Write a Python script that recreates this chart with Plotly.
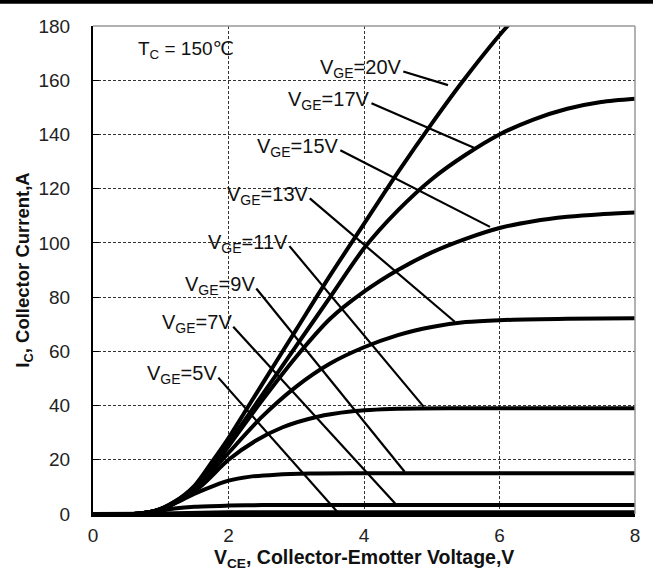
import plotly.graph_objects as go

# ---------------- data ----------------
v20_x = [0, 0.6, 0.9, 1.2, 1.5, 1.75, 2.0, 2.25, 2.5, 3.0, 3.5, 4.0, 4.5, 5.0, 5.5, 6.12, 6.5]
v20_y = [0, 0, 1, 4.5, 10.5, 19, 28, 38, 48, 68, 88, 107, 126, 144, 161, 180, 189]

v17_x = [0, 0.6, 0.9, 1.2, 1.5, 1.8, 2.0, 2.5, 3.0, 3.5, 4.0, 4.5, 5.0, 5.5, 6.0, 6.5, 7.0, 7.5, 8.0]
v17_y = [0, 0, 1, 4.3, 10, 19, 26, 44, 62, 80, 98, 112, 123.5, 132.5, 140, 145.5, 149.5, 152, 153.2]

v15_x = [0, 0.6, 0.9, 1.2, 1.5, 1.8, 2.0, 2.5, 3.0, 3.5, 4.0, 4.5, 5.0, 5.5, 6.0, 6.5, 7.0, 7.5, 8.0]
v15_y = [0, 0, 1, 4, 9.8, 18, 25, 42, 58, 72, 82, 90, 96.5, 101.5, 105.5, 108, 109.6, 110.6, 111.2]

v13_x = [0, 0.6, 0.9, 1.2, 1.5, 1.8, 2.0, 2.5, 3.0, 3.5, 4.0, 4.5, 5.0, 5.5, 6.0, 7.0, 8.0]
v13_y = [0, 0, 1, 4, 9.5, 17, 22.5, 36, 47, 55.5, 61.5, 66, 69, 70.8, 71.5, 72, 72.2]

v11_x = [0, 0.6, 0.9, 1.2, 1.58, 2.0, 2.4, 2.8, 3.3, 3.8, 4.5, 5.5, 8.0]
v11_y = [0, 0, 1, 4, 10, 20, 27, 32, 35.8, 37.8, 38.8, 39, 39]

v9_x = [0, 0.6, 0.9, 1.2, 1.5, 1.8, 2.0, 2.3, 2.7, 3.2, 4.0, 8.0]
v9_y = [0, 0, 1, 3.8, 7.5, 10.6, 12.3, 13.7, 14.5, 14.9, 15, 15]

v7_x = [0, 0.6, 0.9, 1.2, 1.5, 2.0, 2.5, 3.0, 8.0]
v7_y = [0, 0, 0.8, 2.0, 2.7, 3.1, 3.3, 3.3, 3.3]

v5_x = [0, 0.8, 1.2, 1.6, 2.0, 8.0]
v5_y = [0, 0.1, 0.3, 0.5, 0.6, 0.6]

x_ticks = [0, 2, 4, 6, 8]
y_ticks = [0, 20, 40, 60, 80, 100, 120, 140, 160, 180]

curves = [
    ("V_GE=5V", v5_x, v5_y),
    ("V_GE=7V", v7_x, v7_y),
    ("V_GE=9V", v9_x, v9_y),
    ("V_GE=11V", v11_x, v11_y),
    ("V_GE=13V", v13_x, v13_y),
    ("V_GE=15V", v15_x, v15_y),
    ("V_GE=17V", v17_x, v17_y),
    ("V_GE=20V", v20_x, v20_y),
]

# label text and leader line (label end -> point on curve), in data units
label_names = ["5V", "7V", "9V", "11V", "13V", "15V", "17V", "20V"]
label_start_x = [1.85, 2.07, 2.41, 2.90, 3.20, 3.65, 4.11, 4.58]
label_start_y = [50.3, 69.1, 83.2, 98.8, 116.4, 134.2, 151.5, 163.2]
label_end_x = [3.62, 4.46, 4.60, 4.88, 5.34, 5.86, 5.64, 5.24]
label_end_y = [0.4, 3.9, 15.6, 39.6, 70.9, 105.9, 134.9, 158.2]

FONT = "Arial, 'Liberation Sans', 'DejaVu Sans', sans-serif"

fig = go.Figure()
for name, xs, ys in curves:
    fig.add_trace(go.Scatter(
        x=xs, y=ys, mode="lines", name=name,
        line=dict(color="black", width=4, shape="spline", smoothing=0.8),
        showlegend=False, hoverinfo="skip"))

shapes = []
annotations = []
for nm, sx, sy, ex, ey in zip(label_names, label_start_x, label_start_y, label_end_x, label_end_y):
    shapes.append(dict(type="line", xref="x", yref="y", x0=sx, y0=sy, x1=ex, y1=ey,
                       line=dict(color="black", width=2.2), layer="above"))
    annotations.append(dict(
        x=sx, y=sy, xref="x", yref="y", xanchor="right", yanchor="middle",
        text="V<sub>GE</sub>=" + nm, showarrow=False, xshift=1, yshift=3,
        font=dict(family=FONT, size=20, color="#111")))

annotations.append(dict(
    x=0.63, y=171, xref="x", yref="y", xanchor="left", yanchor="middle",
    text="T<sub>C</sub> = 150℃", showarrow=False,
    font=dict(family=FONT, size=19, color="#111")))

# x-axis title placed as an annotation to match the reference spacing
annotations.append(dict(
    x=0.5, y=-0.092, xref="paper", yref="paper", xanchor="center", yanchor="middle",
    text="<b>V<sub>CE</sub>, Collector-Emotter Voltage,V</b>", showarrow=False,
    font=dict(family=FONT, size=19.5, color="#111")))

# frame: gray top/right edges, black bar at top of page
shapes.append(dict(type="line", xref="paper", yref="paper", x0=0, x1=1, y0=1, y1=1,
                   line=dict(color="#999999", width=1.5), layer="above"))
shapes.append(dict(type="line", xref="paper", yref="paper", x0=1, x1=1, y0=0, y1=1,
                   line=dict(color="#999999", width=1.5), layer="above"))
shapes.append(dict(type="rect", xref="paper", yref="paper",
                   x0=-0.2, x1=1.1, y0=1.0455, y1=1.06,
                   line=dict(width=0), fillcolor="black"))

fig.update_layout(
    width=653, height=582,
    margin=dict(l=93, r=18, t=26, b=68, autoexpand=False),
    paper_bgcolor="white", plot_bgcolor="white",
    shapes=shapes, annotations=annotations,
    font=dict(family=FONT, color="#222"),
)

fig.update_xaxes(
    range=[0, 8], tickvals=x_ticks, ticktext=[str(v) for v in x_ticks],
    showgrid=True, gridcolor="#333", griddash="3px,2px", gridwidth=1,
    zeroline=False, showline=True, linecolor="black", linewidth=2.5,
    ticks="", tickfont=dict(family=FONT, size=19, color="#222"),
    ticklabelstandoff=2, automargin=False,
)
fig.update_yaxes(
    range=[0, 180], tickvals=y_ticks, ticktext=[str(v) for v in y_ticks],
    showgrid=True, gridcolor="#333", griddash="3px,2px", gridwidth=1,
    zeroline=False, showline=True, linecolor="black", linewidth=2,
    ticks="inside", ticklen=6, tickcolor="black", tickwidth=1,
    tickfont=dict(family=FONT, size=19, color="#222"),
    ticklabelstandoff=17, automargin=False,
    title=dict(text="<b>I<sub>C</sub>, Collector Current,A</b>",
               font=dict(family=FONT, size=18.5, color="#111"), standoff=4),
)

fig.write_html(
    "out.html",
    config={"displayModeBar": False},
    post_script="document.body.style.margin='0';document.body.style.overflow='hidden';",
)
